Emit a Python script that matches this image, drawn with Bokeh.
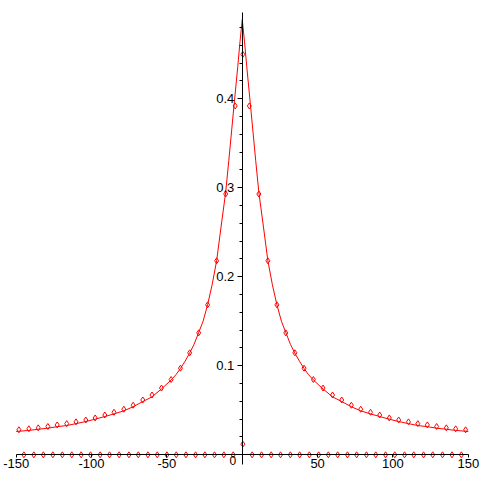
from bokeh.plotting import figure
from bokeh.models import FixedTicker, Label
from bokeh.embed import file_html
from bokeh.resources import INLINE

# Continuous curve
curve_x = [-150, -141.6, -135.4, -129, -122.8, -116.5, -110.3, -103.8, -97.6, -91.2, -85, -78.6,
           -72.4, -66, -60, -53.6, -47.2, -44, -41, -38, -35, -32, -29, -26, -23, -20, -17, -14,
           -11, -8.9, -6, -3, -1.5, 0, 1.5, 3, 6, 8.9, 11, 14, 17, 20, 23, 26, 29, 32, 35, 38, 41,
           44, 47.2, 53.6, 60, 66, 72.4, 78.6, 85, 91.2, 97.6, 103.8, 110.3, 116.5, 122.8, 129,
           135.4, 141.6, 150]
curve_y = [0.0262, 0.0274, 0.0287, 0.0299, 0.0316, 0.0329, 0.0350, 0.0374, 0.0400, 0.0430, 0.0460,
           0.0494, 0.0540, 0.0598, 0.0650, 0.0740, 0.0840, 0.0900, 0.0970, 0.1050, 0.1140, 0.1240,
           0.1370, 0.1500, 0.1685, 0.1910, 0.2180, 0.2570, 0.2950, 0.3310, 0.3830, 0.4360, 0.4640,
           0.4890,
           0.4640, 0.4360, 0.3830, 0.3310, 0.2950, 0.2570, 0.2180, 0.1910, 0.1685, 0.1500, 0.1370,
           0.1240, 0.1140, 0.1050, 0.0970, 0.0900, 0.0840, 0.0740, 0.0650, 0.0598, 0.0540, 0.0494,
           0.0460, 0.0430, 0.0400, 0.0374, 0.0350, 0.0329, 0.0316, 0.0299, 0.0287, 0.0274, 0.0262]

# Sampled points lying on the curve
pts_x = [-148.2, -141.6, -135.4, -129.0, -122.8, -116.5, -110.3, -103.8, -97.6, -91.2, -85.1, -78.6,
         -72.4, -66.0, -59.9, -53.6, -47.2, -41.0, -34.9, -28.9, -23.0, -17.0, -11.0, -4.7, 0.4,
         4.7, 11.0, 17.0, 23.0, 28.9, 34.9, 41.0, 47.2, 53.6, 59.9, 66.0, 72.4, 78.6, 85.1, 91.2,
         97.6, 103.8, 110.3, 116.5, 122.8, 129.0, 135.4, 141.6, 148.2]
pts_y = [0.0281, 0.0292, 0.0303, 0.0318, 0.0336, 0.0350, 0.0370, 0.0391, 0.0414, 0.0447, 0.0478,
         0.0512, 0.0557, 0.0616, 0.0672, 0.0750, 0.0846, 0.0973, 0.1146, 0.1370, 0.1685, 0.2180,
         0.2930, 0.3920, 0.4500,
         0.3920, 0.2930, 0.2180, 0.1685, 0.1370, 0.1146, 0.0973, 0.0846, 0.0750, 0.0672, 0.0616,
         0.0557, 0.0512, 0.0478, 0.0447, 0.0414, 0.0391, 0.0370, 0.0350, 0.0336, 0.0318, 0.0303,
         0.0292, 0.0281]

# Second sampled series lying on the axis
axis_pts_x = [-144.9, -138.3, -132.0, -125.7, -119.4, -113.1, -106.9, -100.7, -94.3, -88.1, -81.7,
              -75.2, -69.0, -62.6, -56.4, -50.0, -43.8, -37.4, -31.0, -24.8, -18.4, -12.2, -6.0,
              0.4,
              6.6, 12.8, 19.2, 25.4, 31.9, 38.1, 44.5, 50.7, 57.1, 63.3, 69.8, 75.9, 82.4, 88.6,
              95.1, 101.2, 107.7, 113.8, 120.3, 126.4, 132.9, 139.2, 145.4]
axis_pts_y = [0.0] * 23 + [0.012] + [0.0] * 23

x_ticks = [-150, -100, -50, 50, 100, 150]
x_tick_labels = ["-150", "-100", "-50", "50", "100", "150"]
y_ticks = [0.1, 0.2, 0.3, 0.4]
y_tick_labels = ["0.1", "0.2", "0.3", "0.4"]
y_minor = [0.02, 0.04, 0.06, 0.08, 0.12, 0.14, 0.16, 0.18, 0.22, 0.24, 0.26, 0.28,
           0.32, 0.34, 0.36, 0.38, 0.42, 0.44, 0.46, 0.48]

p = figure(width=480, height=480, output_backend="svg", toolbar_location=None,
           x_range=(-160.42, 158.09), y_range=(-0.02888, 0.51045), min_border=0)
p.outline_line_color = None
p.xgrid.visible = False
p.ygrid.visible = False
p.background_fill_color = "white"

p.line(curve_x, curve_y, line_color="#ff0000", line_width=1)
p.scatter(pts_x, pts_y, marker="diamond", size=6, line_color="#ff0000", fill_color=None, line_width=1)
p.scatter(axis_pts_x, axis_pts_y, marker="diamond", size=6, line_color="#ff0000", fill_color=None, line_width=1)

FONT = "Liberation Sans"

xa = p.xaxis[0]
xa.fixed_location = 0
xa.bounds = (-150, 150)
xa.ticker = FixedTicker(ticks=x_ticks, minor_ticks=[])
xa.major_label_overrides = {t: l for t, l in zip(x_ticks, x_tick_labels)}
xa.axis_line_color = "black"
xa.major_tick_in = 0
xa.major_tick_out = 3
xa.minor_tick_in = 0
xa.minor_tick_out = 0
xa.major_label_standoff = 1
xa.major_label_text_font = FONT
xa.major_label_text_font_size = "13px"
xa.major_label_text_color = "black"

ya = p.yaxis[0]
ya.fixed_location = 0
ya.bounds = (-0.011, 0.497)
ya.ticker = FixedTicker(ticks=y_ticks, minor_ticks=y_minor)
ya.major_label_overrides = {t: l for t, l in zip(y_ticks, y_tick_labels)}
ya.axis_line_color = "black"
ya.major_tick_in = 0
ya.major_tick_out = 5
ya.minor_tick_in = 0
ya.minor_tick_out = 3
ya.major_label_standoff = 3
ya.major_label_text_font = FONT
ya.major_label_text_font_size = "13px"
ya.major_label_text_color = "black"

p.add_layout(Label(x=0, y=0, text="0", x_offset=-6, y_offset=-1, text_align="right",
                   text_baseline="top", text_font=FONT, text_font_size="12px",
                   text_color="black"))

open("out.html", "w").write(file_html(p, INLINE))
